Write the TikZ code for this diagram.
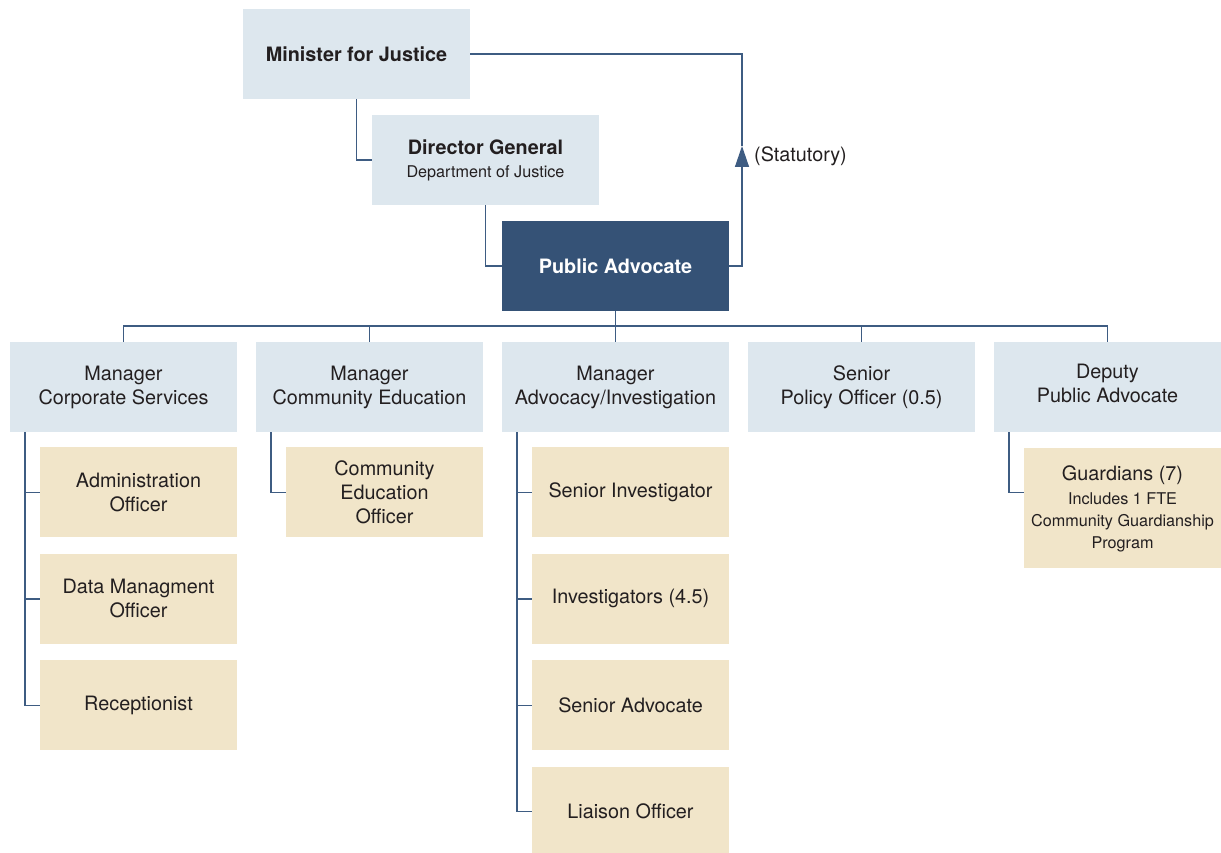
\documentclass[tikz,border=0pt]{standalone}
\usepackage{fontspec}
\setmainfont{TeX Gyre Heros}
\usetikzlibrary{
  calc,
  positioning, % for below=of
  arrows.meta}
\definecolor{boxblue}{RGB}{221,231,238}
\definecolor{boxtan}{RGB}{241,229,201}
\definecolor{headblue}{RGB}{53,82,118}
\definecolor{linkblue}{RGB}{62,92,130}
\definecolor{inkgray}{RGB}{35,31,32}
\newcommand{\bigtxt}{\fontsize{19.8}{24}\selectfont}
\newcommand{\smalltxt}{\fontsize{16.2}{22}\selectfont}
\tikzstyle{unit} = [fill=boxblue, text=inkgray, minimum width=227pt, minimum height=90pt, inner sep=0pt, align=center, font=\bigtxt]
\tikzstyle{head} = [unit, fill=headblue, text=white]
\tikzstyle{staff} = [fill=boxtan, text=inkgray, minimum width=197pt, minimum height=90pt, inner sep=0pt, align=center, font=\bigtxt]
\tikzstyle{link} = [draw=linkblue, line width=1.4pt]

\begin{document}
\begin{tikzpicture}[ x=1pt, y=-1pt, node distance=246pt, >={Triangle[width=14pt,length=21pt]} ]
\useasboundingbox (0,0) rectangle (1221,853);

% top of the chart
\node[unit] (minister) at (356.5,54) {\textbf{Minister for Justice}};
\node[unit] (dg) at (485.5,160) {\textbf{Director General}\\[-1pt]{\smalltxt Department of Justice}};
\node[head] (pa) at (615.5,266) {\textbf{Public Advocate}};

\draw[link] (minister.south) |- (dg.west);
\draw[link] (dg.south) |- (pa.west);

\coordinate (stattip) at (742,146);
\draw[link,->] (pa.east) -| (stattip);
\draw[link] (stattip) |- (minister.east);
\node[font=\bigtxt, text=inkgray, anchor=west, inner sep=0pt] (statlabel) at (754,156) {(Statutory)};

% managers
\node[unit] (mcorp) at (123.5,387) {Manager\\Corporate Services};
\node[unit,right of=mcorp] (mcomm) {Manager\\Community Education};
\node[unit,right of=mcomm] (madv) {Manager\\Advocacy/Investigation};
\node[unit,right of=madv] (msen) {Senior\\Policy Officer (0.5)};
\node[unit,right of=msen] (mdep) {Deputy\\Public Advocate\strut};

\draw[link] (pa.south) -- (madv.north);
\draw[link] (mcorp.north) -- ++(0,-16) -| (mdep.north);
\foreach \m in {mcomm,msen}
  \draw[link] (\m.north) -- ++(0,-16);

% staff
\node[staff,anchor=north east] (admin) at ($(mcorp.south east)+(0,15)$) {Administration\\Officer};
\node[staff,below=16pt of admin] (data) {Data Managment\\Officer};
\node[staff,below=16pt of data] (recep) {Receptionist};

\node[staff,anchor=north east] (ceo) at ($(mcomm.south east)+(0,15)$) {Community\\Education\\Officer};

\node[staff,anchor=north east] (sinv) at ($(madv.south east)+(0,15)$) {Senior Investigator};
\node[staff,below=16pt of sinv] (inv) {Investigators (4.5)};
\node[staff,below=16pt of inv] (sadv) {Senior Advocate};
\node[staff,below=16pt of sadv] (liaison) {Liaison Officer};

\node[staff,anchor=north east,minimum height=120pt] (guard) at ($(mdep.south east)+(0,16)$) {Guardians (7)\\{\smalltxt Includes 1 FTE}\\[-2pt]{\smalltxt Community Guardianship}\\[-2pt]{\smalltxt Program}};

\draw[link] ($(mcorp.south west)+(15,0)$) |- (recep.west);
\draw[link] (admin.west) -- ++(-15,0);
\draw[link] (data.west) -- ++(-15,0);

\draw[link] ($(mcomm.south west)+(15,0)$) |- (ceo.west);

\draw[link] ($(madv.south west)+(15,0)$) |- (liaison.west);
\draw[link] (sinv.west) -- ++(-15,0);
\draw[link] (inv.west) -- ++(-15,0);
\draw[link] (sadv.west) -- ++(-15,0);

\coordinate (guardstub) at ($(guard.north west)+(0,44)$);
\draw[link] ($(mdep.south west)+(15,0)$) |- (guardstub);

\end{tikzpicture}
\end{document}
